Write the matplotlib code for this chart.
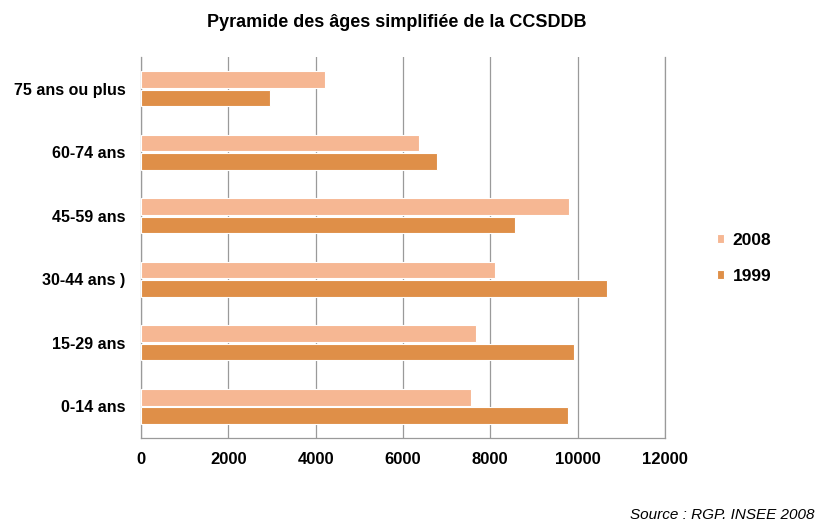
import matplotlib

matplotlib.use("Agg")
import matplotlib.pyplot as plt
import numpy as np

plt.rcParams["font.family"] = ["Liberation Sans", "DejaVu Sans"]

categories = ["75 ans ou plus", "60-74 ans", "45-59 ans", "30-44 ans )", "15-29 ans", "0-14 ans"]
pop_2008 = [4210, 6370, 9800, 8120, 7670, 7570]
pop_1999 = [2960, 6780, 8570, 10680, 9920, 9780]
xticks = [0, 2000, 4000, 6000, 8000, 10000, 12000]

C2008 = "#F6B793"
C1999 = "#DF8F48"

fig = plt.figure(figsize=(8.29, 5.28), dpi=100)
ax = fig.add_axes([0.170, 0.170, 0.632, 0.722])

y = np.arange(len(categories))
h = 0.26
off = 0.145
ax.barh(y - off, pop_2008, height=h, color=C2008, edgecolor="white", linewidth=0.8,
        label="2008", zorder=3)
ax.barh(y + off, pop_1999, height=h, color=C1999, edgecolor="white", linewidth=0.8,
        label="1999", zorder=3)

ax.set_xlim(0, 12000)
ax.set_ylim(len(categories) - 0.5, -0.5)
ax.set_xticks(xticks)
ax.set_xticklabels([str(t) for t in xticks], fontsize=12, fontweight="bold")
ax.set_yticks(y)
ax.set_yticklabels(categories, fontsize=11.5, fontweight="bold")
ax.tick_params(axis="both", length=0)
ax.tick_params(axis="x", pad=10)
ax.tick_params(axis="y", pad=11)
ax.grid(axis="x", color="#9a9a9a", linewidth=0.9, zorder=0)
for s in ax.spines.values():
    s.set_color("#9a9a9a")
    s.set_linewidth(0.9)
ax.spines["top"].set_visible(False)

fig.text(0.478, 0.958, "Pyramide des âges simplifiée de la CCSDDB", ha="center",
         va="center", fontsize=13, fontweight="bold")

leg = fig.legend(loc="center left", bbox_to_anchor=(0.846, 0.511), frameon=False,
                 fontsize=12.5, handlelength=0.4, handleheight=0.4, handletextpad=0.5,
                 labelspacing=1.2)
for t in leg.get_texts():
    t.set_fontweight("bold")

fig.text(0.983, 0.025, "Source : RGP. INSEE 2008", ha="right", va="center",
         fontsize=11, style="italic")

fig.savefig("out.png", dpi=100)
